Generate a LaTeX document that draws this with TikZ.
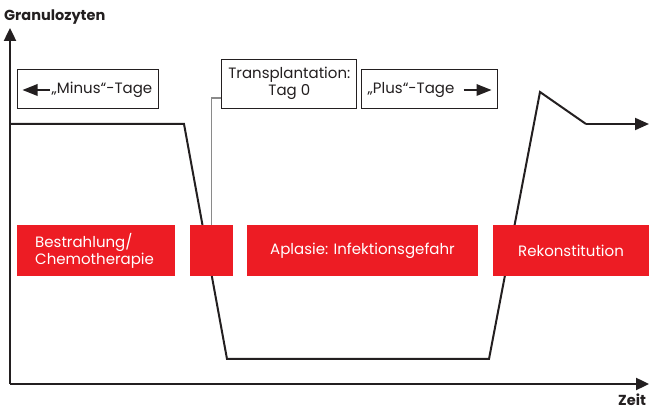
\documentclass[tikz,border=0pt]{standalone}
\usepackage{fontspec}
\setmainfont{Poppins}
\usetikzlibrary{arrows.meta,calc}
\definecolor{ink}{HTML}{231F20}
\definecolor{redbox}{HTML}{ED1C24}
\definecolor{conn}{HTML}{8A8A8A}
\begin{document}
\begin{tikzpicture}[x=1pt,y=-1pt,
  txt/.style={font=\fontsize{15}{17}\selectfont, text=ink, inner sep=0pt},
  label/.style={draw=ink, line width=0.9pt, fill=white, inner sep=0pt},
  red/.style={fill=redbox, inner sep=0pt, text=white, font=\fontsize{15}{17.5}\selectfont},
  axis/.style={ink, line width=2.4pt, -{Triangle[length=13pt,width=12pt]}},
  curve/.style={ink, line width=2pt, line join=miter},
  small/.style={ink, line width=1.8pt, -{Triangle[length=15pt,width=11.5pt,fill=ink]}},
  ttl/.style={font=\bfseries\fontsize{14.5}{16}\selectfont, text=ink, inner sep=0pt}
]
\useasboundingbox (0,0) rectangle (649,411);
% axes
\coordinate (o) at (10,384);
\coordinate (ytip) at (10,28);
\coordinate (xtip) at (649,384);
\draw[axis] (o) -- (ytip);
\draw[axis] (o) -- (xtip);
\node[ttl, anchor=base west] (ylab) at (4,21) {Granulozyten};
\node[ttl, anchor=base west] (xlab) at (618,406) {Zeit};
% curve
\coordinate (c0) at (10,124);
\coordinate (c1) at (184,124);
\coordinate (c2) at (227,359);
\coordinate (c3) at (489,359);
\coordinate (c4) at (540,92);
\coordinate (c5) at (586,124);
\coordinate (c6) at (649,124);
\draw[curve] (c0) -- (c1) -- (c2) -- (c3) -- (c4) -- (c5);
\draw[curve, -{Triangle[length=14pt,width=12pt]}] (c5) -- (c6);
% red phase boxes (drawn over the curve)
\node[red, minimum width=158pt, minimum height=51pt] (b1) at (96,251) {};
\node[red, align=left, anchor=west] (b1t) at (35,251) {Bestrahlung/\\Chemotherapie};
\node[red, minimum width=43pt, minimum height=51pt] (b2) at (211.5,251) {};
\node[red, minimum width=231pt, minimum height=51pt] (b3) at (362.5,251) {Aplasie: Infektionsgefahr};
\node[red, minimum width=156pt, minimum height=51pt] (b4) at (571,251) {Rekonstitution};
% label boxes
\node[label, minimum width=141pt, minimum height=39pt] (minus) at (87.8,88.8) {};
\node[txt, anchor=west] (minust) at (51.5,89.5) {„Minus“-Tage};
\coordinate (ma) at (50,90);
\coordinate (mb) at (22.5,90);
\draw[small] (ma) -- (mb);
\node[label, minimum width=135pt, minimum height=49pt, align=center, font=\fontsize{15}{17}\selectfont, text=ink] (tbox) at (289.3,83.8) {Transplantation:\\Tag 0};
\node[label, minimum width=135.6pt, minimum height=39.3pt] (plus) at (429.5,88.7) {};
\node[txt, anchor=west] (plust) at (367.5,89.5) {„Plus“-Tage};
\coordinate (pa) at (463.5,90);
\coordinate (pb) at (491.5,90);
\draw[small] (pa) -- (pb);
% connector from transplantation box to day-0 box
\draw[conn, line width=1.6pt] (b2.north) |- ([yshift=-14pt]tbox.west);
\end{tikzpicture}
\end{document}
